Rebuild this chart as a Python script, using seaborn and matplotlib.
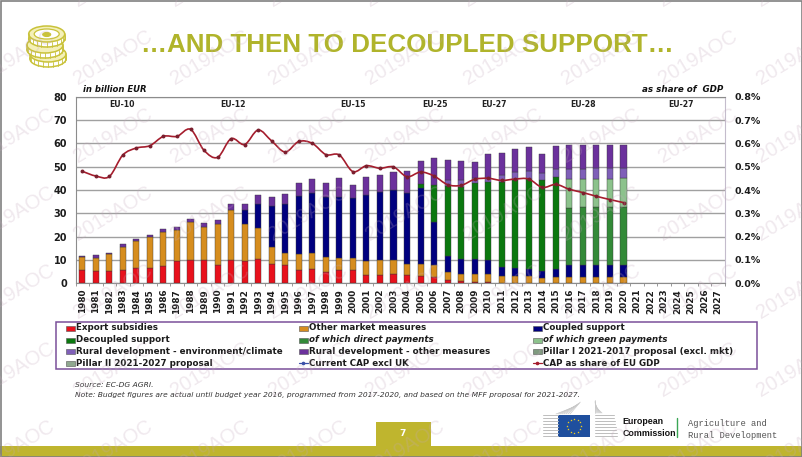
import numpy as np
import matplotlib
matplotlib.use("Agg")
import matplotlib.pyplot as plt
from matplotlib.patches import Rectangle, Ellipse, PathPatch
from matplotlib.path import Path
import seaborn as sns

years = [str(y) for y in range(1980, 2028)]
export = [5.7,5.3,5.3,5.7,6.7,6.7,7.4,9.5,10,9.8,7.9,10,9.6,10.3,8.2,7.9,5.7,6,4.9,5.7,
          5.7,3.6,3.6,3.9,3.4,3.1,2.6,1.4,1,.7,.4,.1,.1,.1,0,0,0,0,0,0,0]
market = [5.4,5.7,7.1,10,11.6,13,14.7,13.5,16.4,14.5,17.4,21.4,15.8,13.5,7.5,5.3,6.7,7,6.3,5.2,
          5,6.1,6.4,6.1,4.9,5.2,5.3,3.5,3,3.2,3.5,3.2,3.2,3,2.3,2.9,2.6,2.6,2.7,2.7,2.7]
coupled = [0,0,0,0,0,0,0,0,0,0,0,0,6,10.4,17.4,20.6,25,25.8,25.8,26.2,
           25.7,28.3,29.3,30,30.3,32.4,18.4,6.8,6.3,6.4,6,3.6,3.4,2.9,3,3.2,5.1,5.1,5,5,5]
decoupled = [0]*25 + [1.9,15.8,30,31.1,32.8,33.7,36.7,37.6,38.6,39,39.3,0,0,0,0,0]
direct = [0]*36 + [24.4,24.9,25,25,25]
green = [0]*36 + [12.5,12.1,12.2,12.2,12.4]
rd_env = [0]*27 + [2.6,2.9,1.9,1.4,2.8,3.3,3.5,3.1,3.7,4.4,4.4,4.4,4.4,4.2]
rd_other = [.4,1,.8,1.2,.7,1,1.1,1.1,1.3,1.7,1.9,2.7,2.8,3.7,3.7,4.3,5.7,6.1,6.2,8.1,
            5.6,7.7,7.1,7.7,9.5,9.8,11.5,8.6,8.1,7,10.3,9.6,10.1,10.2,8.2,9.9,10.1,10.2,10,10,10]
gdp_share = [.48,.46,.458,.55,.58,.59,.63,.63,.66,.57,.54,.62,.595,.657,.61,.563,.608,.60,.552,.55,
             .479,.504,.493,.499,.457,.477,.46,.423,.42,.446,.45,.441,.447,.447,.411,.424,.403,.389,.373,.359,.346]

series = [("Export subsidies", export, "#e8111c"),
          ("Other market measures", market, "#d68d1e"),
          ("Coupled support", coupled, "#00007f"),
          ("Decoupled support", decoupled, "#0b780f"),
          ("of which direct payments", direct, "#338a38"),
          ("of which green payments", green, "#8cc28c"),
          ("Rural development - environment/climate", rd_env, "#7f5fb8"),
          ("Rural development - other measures", rd_other, "#6b319c")]
legend_labels = [s[0] for s in series] + ["Pillar I 2021-2017 proposal (excl. mkt)",
                 "Pillar II 2021-2027 proposal", "Current CAP excl UK", "CAP as share of EU GDP"]
eu_labels = [("EU-10", 122), ("EU-12", 233), ("EU-15", 353), ("EU-25", 435),
             ("EU-27", 494), ("EU-28", 583), ("EU-27", 681)]
left_ticks = list(range(0, 90, 10))
right_ticks = [i / 10 for i in range(9)]

sns.set_theme(style="white")
plt.rcParams["font.family"] = ["DejaVu Sans"]
W, H = 802, 457
fig = plt.figure(figsize=(W / 100, H / 100), dpi=100, facecolor="white")
L, R, T, B = 75.5, 725.0, 96.7, 283.3
ax = fig.add_axes([L / W, 1 - B / H, (R - L) / W, (B - T) / H])
ax.set_facecolor("white")
n = len(years)
bottom = np.zeros(n)
for name, vals, col in series:
    v = np.array(vals + [0] * (n - len(vals)), float)
    before = len(ax.patches)
    sns.barplot(x=years, y=v, order=years, color=col, saturation=1, errorbar=None, width=0.45,
                bottom=bottom, edgecolor="#3a3a3a", linewidth=0.3, ax=ax, zorder=3)
    for p, h in zip(ax.patches[before:], v):
        if h == 0:
            p.set_visible(False)
    bottom += v
ax.set_xlim(-0.5, n - 0.5)
ax.set_ylim(0, 80)
ax.set_yticks(left_ticks)
ax.set_xticks(range(n))
ax.set_xticks(np.arange(n + 1) - 0.5, minor=True)
ax.set_xticklabels(years, rotation=90, fontsize=6.4, fontweight="bold", color="#1c1c1c")
ax.set_yticklabels([str(t) for t in left_ticks], fontsize=7, fontweight="bold", color="#1c1c1c")
ax.tick_params(axis="x", which="major", length=0, pad=4)
ax.tick_params(axis="x", which="minor", length=2, width=0.6, color="#888888", bottom=True)
ax.tick_params(axis="y", length=0, pad=6)
ax.grid(axis="y", color="#a0a0a0", lw=1.0, zorder=0)
ax.set_axisbelow(True)
ax.set_xlabel(""); ax.set_ylabel("")
for s in ax.spines.values():
    s.set_color("#8c8c8c"); s.set_linewidth(0.8)
ax.spines["right"].set_color("#c4bccc")

ax2 = ax.twinx()
ax2.set_ylim(0, 0.8)
ax2.set_yticks(right_ticks)
ax2.set_yticklabels([f"{t:.1f}%" for t in right_ticks], fontsize=6.8, fontweight="bold", color="#1c1c1c")
ax2.tick_params(axis="y", length=0, pad=6.5)
ax2.grid(False)
for s in ax2.spines.values():
    s.set_visible(False)

# smooth curve through the read values, as in the spreadsheet's smoothed line
xs = np.arange(len(gdp_share), dtype=float)
ys = np.array(gdp_share)
pts = np.c_[xs, ys]
tan = np.gradient(pts, axis=0)
verts = [tuple(pts[0])]
codes = [Path.MOVETO]
for i in range(len(pts) - 1):
    verts += [tuple(pts[i] + tan[i] / 3), tuple(pts[i + 1] - tan[i + 1] / 3), tuple(pts[i + 1])]
    codes += [Path.CURVE4] * 3
ax2.add_patch(PathPatch(Path(verts, codes), fc="none", ec="#a51d2d", lw=1.2, zorder=5))
sns.scatterplot(x=xs, y=ys, color="#7a1f2e", s=8, linewidth=0, ax=ax2, zorder=6, legend=False)
ax2.set_xlim(-0.5, n - 0.5)

# page furniture in pixel coordinates
ov = fig.add_axes([0, 0, 1, 1], zorder=10)
ov.set_xlim(0, W); ov.set_ylim(H, 0); ov.axis("off"); ov.patch.set_alpha(0)
OLIVE = "#bfb52e"
ov.add_patch(Rectangle((0, 446), W, 11, fc=OLIVE, ec="none"))
ov.add_patch(Rectangle((376, 422), 55, 24, fc=OLIVE, ec="none"))
ov.text(403, 434, "7", color="white", fontsize=6.5, fontweight="bold", ha="center", va="center")
ov.add_patch(Rectangle((0.5, 0.5), W - 1, H - 1, fc="none", ec="#808080", lw=1.2))
ov.text(407, 45, "…AND THEN TO DECOUPLED SUPPORT…", color="#b0b42b", fontsize=18.7, fontweight="bold",
        family="Liberation Sans", ha="center", va="center")

# coins icon
COIN = "#c9c23a"
for cx, cy in ((48, 54), (45, 45), (46.7, 34)):
    ov.add_patch(Ellipse((cx, cy + 5), 36, 16, fc="white", ec=COIN, lw=1.1))
    ov.add_patch(Rectangle((cx - 18, cy), 36, 5, fc="white", ec="none"))
    ov.plot([cx - 18, cx - 18], [cy, cy + 5], color=COIN, lw=1.1)
    ov.plot([cx + 18, cx + 18], [cy, cy + 5], color=COIN, lw=1.1)
    ov.add_patch(Ellipse((cx, cy), 36, 16, fc="#f4f0b8", ec=COIN, lw=1.1))
    t = np.linspace(0.1, np.pi - 0.1, 11)
    for a_ in t:
        px, py = cx + 18 * np.cos(a_), cy + 8 * np.sin(a_)
        ov.plot([px, px], [py, py + 5], color=COIN, lw=0.6)
ov.add_patch(Ellipse((46.7, 34), 25, 10, fc="white", ec=COIN, lw=0.9))
ov.add_patch(Ellipse((46.7, 34.5), 8, 4, fc=COIN, ec=COIN, lw=0.8))

ov.text(83, 89, "in billion EUR", fontsize=6.1, fontweight="bold", style="italic", color="#111111", va="center")
ov.text(723, 89, "as share of  GDP", fontsize=6.3, fontweight="bold", style="italic", color="#111111", va="center", ha="right")
for lab, x in eu_labels:
    ov.text(x, 104.5, lab, fontsize=5.6, fontweight="bold", color="#222222", ha="center", va="center")

# legend panel
ov.add_patch(Rectangle((56, 322), 701, 47, fc="white", ec="#7a4f9a", lw=1.1))
colx = [66, 299, 533]
rowy = [328, 340, 351.5, 363]
swatches = [s[2] for s in series] + ["#7f9a7f", "#8fa88f", None, None]
linecols = {10: "#3b50a8", 11: "#a51d2d"}
for i, lab in enumerate(legend_labels):
    x, y = colx[i % 3], rowy[i // 3]
    if swatches[i]:
        ov.add_patch(Rectangle((x, y - 2.5), 8.5, 5, fc=swatches[i], ec="#555555", lw=0.4))
    else:
        ov.plot([x, x + 8.5], [y, y], color=linecols[i], lw=0.9)
        ov.plot([x + 4], [y], "o", ms=1.6, color=linecols[i])
    ov.text(x + 9.7, y, lab, fontsize=6.3, fontweight="bold", color="#1c1c1c", va="center",
            style="italic" if lab.startswith("of which") else "normal")

ov.text(75, 385, "Source: EC-DG AGRI.", fontsize=5.4, style="italic", color="#333333", va="center")
ov.text(75, 394.7, "Note: Budget figures are actual until budget year 2016, programmed from 2017-2020, and based on the MFF proposal for 2021-2027.",
        fontsize=5.4, style="italic", color="#333333", va="center")

# European Commission mark
ov.add_patch(Rectangle((558, 415), 32, 21.5, fc="#1f4f9e", ec="none"))
a = np.linspace(0, 2 * np.pi, 12, endpoint=False)
ov.scatter(574 + 7 * np.cos(a), 425.7 + 7 * np.sin(a), marker="*", s=3, color="#ffd617", linewidths=0)
for i in range(8):
    ov.plot([543, 558], [415 + i * 3, 415 + i * 3], color="#bdbdbd", lw=0.7)
    ov.plot([595, 617 - i * 0.5], [436 - i * 3, 436 - i * 3], color="#bdbdbd", lw=0.7)
    ov.plot([556 + i * 2, 574 + i * 0.9], [414, 407 - i * 0.7], color="#c8c8c8", lw=0.5)
    ov.plot([595 + i, 595 + i * 0.1], [413, 400 + i], color="#c8c8c8", lw=0.5)
ov.text(622.5, 422, "European", fontsize=6.4, fontweight="bold", color="#111111", va="center", family="Liberation Sans")
ov.text(622.5, 433, "Commission", fontsize=6.4, fontweight="bold", color="#111111", va="center", family="Liberation Sans")
ov.plot([676.7, 676.7], [418, 437], color="#3aa655", lw=1)
ov.text(688, 423, "Agriculture and", fontsize=6.3, color="#555555", va="center", family="Liberation Mono")
ov.text(688, 436, "Rural Development", fontsize=6.3, color="#555555", va="center", family="Liberation Mono")

# watermark
for y in np.arange(-20, 470, 78):
    for x in np.arange(15, 830, 97.6):
        ov.text(x, y, "2019AOC", fontsize=14.5, color="#c4a8bc", alpha=0.25,
                rotation=31, ha="center", va="center", family="Liberation Sans", clip_on=True)

fig.savefig("out.png", dpi=100)
